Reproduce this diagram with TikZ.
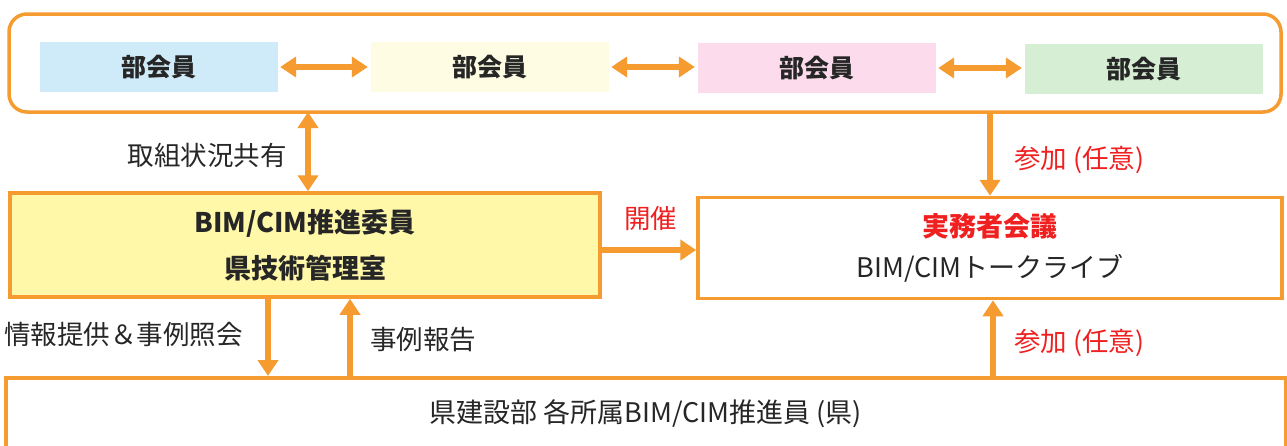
\documentclass[tikz,border=0pt]{standalone}
\usepackage{fontspec}
\setmainfont{Noto Sans CJK JP}
\newfontfamily\jp{Noto Sans CJK JP}
\usetikzlibrary{arrows.meta}
\definecolor{org}{HTML}{F59B30}
\definecolor{fblue}{HTML}{CFEAF8}
\definecolor{fyel}{HTML}{FEFCE2}
\definecolor{fpink}{HTML}{FCDCEC}
\definecolor{fgreen}{HTML}{D6EED4}
\definecolor{fbox}{HTML}{FFF8A8}
\definecolor{jred}{HTML}{F02020}
\tikzset{
  member/.style={minimum width=238pt, minimum height=50pt, inner sep=0pt, font=\jp\fontsize{25}{28}\selectfont\bfseries, text=black!85},
  frame/.style={draw=org, line width=3.5pt, inner sep=0pt},
  arr/.style={draw=org, line width=6pt, -{Triangle[width=20pt,length=16pt]}},
  darr/.style={draw=org, line width=6pt, {Triangle[width=20pt,length=16pt]}-{Triangle[width=20pt,length=16pt]}},
  lbl/.style={font=\jp\fontsize{26.5}{30}\selectfont, text=black!85, inner sep=0pt},
  rlbl/.style={font=\jp\fontsize{26.5}{30}\selectfont, text=jred, inner sep=0pt},
}
\begin{document}
\begin{tikzpicture}[x=1pt,y=-1pt]
\useasboundingbox (0,0) rectangle (1287,445);
% outer group
\draw[frame, rounded corners=18pt] (9,14) rectangle (1281,112);
\coordinate (gtop) at (308,112);
\coordinate (gright) at (990,112);
% members
\node[member, fill=fblue] (m1) at (159,67) {部会員};
\node[member, fill=fyel] (m2) at (490,67) {部会員};
\node[member, fill=fpink] (m3) at (817,68) {部会員};
\node[member, fill=fgreen] (m4) at (1144,69) {部会員};
\draw[darr] ([xshift=2pt]m1.east) -- ([xshift=-3pt]m1.east -| m2.west);
\draw[darr] ([xshift=2pt]m2.east) -- ([xshift=-3pt]m2.east -| m3.west);
\draw[darr] ([xshift=2pt]m3.east) -- ([xshift=-3pt]m3.east -| m4.west);
% committee box
\node[frame, fill=fbox, minimum width=590pt, minimum height=104pt, align=center,
      font=\jp\fontsize{27}{46}\selectfont\bfseries, text=black!85] (com) at (305,245)
      {BIM/CIM推進委員\\県技術管理室};
% practitioners box
\node[frame, fill=white, minimum width=584pt, minimum height=101pt, align=center] (prac) at (990,248)
      {{\jp\fontsize{27}{30}\selectfont\bfseries\color{jred}実務者会議}\\[14pt]{\jp\fontsize{27}{30}\selectfont\color{black!85}BIM/CIMトークライブ}};
% bottom box
\node[frame, fill=white, minimum width=1280pt, minimum height=72pt, anchor=north west,
      font=\jp\fontsize{27}{30}\selectfont, text=black!85] (pref) at (4,376)
      {県建設部 各所属BIM/CIM推進員 (県)};
% connectors
\draw[darr] (gtop) -- (gtop |- com.north);
\node[lbl, anchor=east] (l1) at (287,155) {取組状況共有};
\draw[arr] (gright) -- (gright |- prac.north);
\node[rlbl, anchor=west] (l2) at (1014,160) {参加 (任意)};
\coordinate (h) at (0,250);
\draw[arr] (h -| com.east) -- (h -| prac.west);
\node[rlbl, anchor=west] (l3) at (624,218) {開催};
\coordinate (c1) at (268,0);
\coordinate (c2) at (350,0);
\coordinate (c3) at (993,0);
\draw[arr] (c1 |- com.south) -- (c1 |- pref.north);
\draw[arr] (c2 |- pref.north) -- (c2 |- com.south);
\draw[arr] (c3 |- pref.north) -- (c3 |- prac.south);
\node[lbl, anchor=west] (l4) at (4,334) {情報提供＆事例照会};
\node[lbl, anchor=west] (l5) at (370,340) {事例報告};
\node[rlbl, anchor=west] (l6) at (1014,343) {参加 (任意)};
\end{tikzpicture}
\end{document}
